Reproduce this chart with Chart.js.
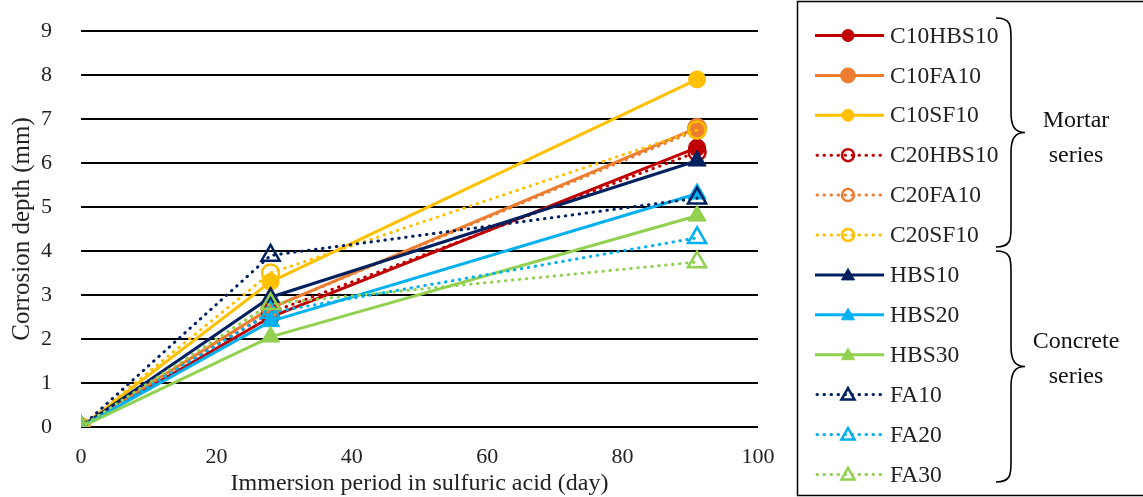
<!DOCTYPE html>
<html>
<head>
<meta charset="utf-8">
<script src="https://cdn.jsdelivr.net/npm/chart.js@4.4.0/dist/chart.umd.min.js"></script>
<style>
  html, body { margin: 0; padding: 0; background: #fff; }
  #wrap { width: 1143px; height: 497px; }
</style>
</head>
<body>
<div id="wrap"><canvas id="corrChart"></canvas></div>
<script>
// immersion days
const days = [0, 28, 91];

// corrosion depth (mm)
const c10hbs10 = [0, 2.5, 6.35];
const c10fa10 = [0, 2.7, 6.8];
const c10sf10 = [0, 3.3, 7.9];
const c20hbs10 = [0, 2.6, 6.25];
const c20fa10 = [0, 2.7, 6.75];
const c20sf10 = [0, 3.5, 6.75];
const hbs10 = [0, 2.95, 6.05];
const hbs20 = [0, 2.4, 5.3];
const hbs30 = [0, 2.05, 4.8];
const fa10 = [0, 3.9, 5.2];
const fa20 = [0, 2.6, 4.3];
const fa30 = [0, 2.8, 3.75];

const xTicks = [0, 20, 40, 60, 80, 100];
const yTicks = [0, 1, 2, 3, 4, 5, 6, 7, 8, 9];

const FONT = "'Liberation Serif', 'Times New Roman', serif";

function series(label, values, color, style, filled, dotted, radius) {
    return {
        label: label,
        data: days.map((d, i) => ({ x: d, y: values[i] })),
        borderColor: color,
        backgroundColor: color,
        borderWidth: 3,
        borderDash: dotted ? [0.5, 6.5] : [],
        borderCapStyle: dotted ? 'round' : 'butt',
        pointStyle: style,
        pointRadius: radius || (style === 'triangle' ? 10.5 : 8.5),
        pointBackgroundColor: filled ? color : 'rgba(255,255,255,0)',
        pointBorderColor: color,
        pointBorderWidth: filled ? 1 : 2.5,
        tension: 0,
        fill: false
    };
}

const datasets = [
    series('C10HBS10', c10hbs10, '#C00000', 'circle', true, false),
    series('C10FA10', c10fa10, '#ED7D31', 'circle', true, false, 9.5),
    series('C10SF10', c10sf10, '#FFC000', 'circle', true, false),
    series('C20HBS10', c20hbs10, '#C00000', 'circle', false, true),
    series('C20FA10', c20fa10, '#ED7D31', 'circle', false, true),
    series('C20SF10', c20sf10, '#FFC000', 'circle', false, true),
    series('HBS10', hbs10, '#002060', 'triangle', true, false),
    series('HBS20', hbs20, '#00B0F0', 'triangle', true, false),
    series('HBS30', hbs30, '#92D050', 'triangle', true, false),
    series('FA10', fa10, '#002060', 'triangle', false, true),
    series('FA20', fa20, '#00B0F0', 'triangle', false, true),
    series('FA30', fa30, '#92D050', 'triangle', false, true)
];
// later series drawn on top
datasets.forEach((ds, i) => { ds.order = datasets.length - i; });

function drawBrace(ctx, x, y1, y2) {
    // curly brace opening to the left, tip pointing right
    const mid = (y1 + y2) / 2;
    const w = 15;
    ctx.beginPath();
    ctx.moveTo(x, y1);
    ctx.bezierCurveTo(x + w, y1, x + w, y1 + 8, x + w, y1 + 20);
    ctx.lineTo(x + w, mid - 20);
    ctx.bezierCurveTo(x + w, mid - 6, x + w + 4, mid, x + w + 14, mid);
    ctx.bezierCurveTo(x + w + 4, mid, x + w, mid + 6, x + w, mid + 20);
    ctx.lineTo(x + w, y2 - 20);
    ctx.bezierCurveTo(x + w, y2 - 8, x + w, y2, x, y2);
    ctx.stroke();
}

// custom legend box with grouping braces
const legendBox = {
    id: 'legendBox',
    afterDraw(chart) {
        const ctx = chart.ctx;
        ctx.save();
        ctx.strokeStyle = '#000';
        ctx.lineWidth = 1.5;
        ctx.strokeRect(797.5, 1.5, 360, 494);

        chart.data.datasets.forEach((ds, i) => {
            const y = 35.5 + i * 39.9;
            ctx.save();
            ctx.strokeStyle = ds.borderColor;
            ctx.lineWidth = 3;
            ctx.setLineDash(ds.borderDash);
            ctx.lineCap = ds.borderCapStyle;
            ctx.beginPath();
            if (ds.borderDash.length) {
                ctx.moveTo(817, y); ctx.lineTo(884, y);
            } else {
                ctx.moveTo(815, y); ctx.lineTo(884, y);
            }
            ctx.stroke();
            ctx.restore();

            ctx.save();
            ctx.fillStyle = ds.pointBackgroundColor;
            ctx.strokeStyle = ds.pointBorderColor;
            ctx.lineWidth = ds.pointBorderWidth;
            ctx.beginPath();
            if (ds.pointStyle === 'circle') {
                const r = ds.label === 'C10FA10' ? 7.5 : 6;
                ctx.arc(848, y, r, 0, Math.PI * 2);
            } else {
                ctx.moveTo(848, y - 6.5);
                ctx.lineTo(854.5, y + 5);
                ctx.lineTo(841.5, y + 5);
                ctx.closePath();
            }
            ctx.fill();
            ctx.stroke();
            ctx.restore();

            ctx.fillStyle = '#222';
            ctx.font = '23.5px ' + FONT;
            ctx.textAlign = 'left';
            ctx.textBaseline = 'middle';
            ctx.fillText(ds.label, 890, y + 1);
        });

        ctx.strokeStyle = '#000';
        ctx.lineWidth = 1.6;
        drawBrace(ctx, 996, 18, 247);
        drawBrace(ctx, 996, 251, 482);

        ctx.fillStyle = '#111';
        ctx.font = '24px ' + FONT;
        ctx.textAlign = 'center';
        ctx.textBaseline = 'middle';
        ctx.fillText('Mortar', 1076, 121);
        ctx.fillText('series', 1076, 156);
        ctx.fillText('Concrete', 1076, 342);
        ctx.fillText('series', 1076, 377);
        ctx.restore();
    }
};

document.addEventListener('DOMContentLoaded', function() {
    const ctx = document.getElementById('corrChart').getContext('2d');
    new Chart(ctx, {
        type: 'line',
        data: { datasets: datasets },
        options: {
            responsive: true,
            maintainAspectRatio: false,
            animation: false,
            layout: { padding: { left: 0, right: 385, top: 31, bottom: 0 } },
            plugins: {
                legend: { display: false },
                tooltip: { enabled: false }
            },
            scales: {
                x: {
                    type: 'linear',
                    min: 0,
                    max: 100,
                    afterBuildTicks: axis => { axis.ticks = xTicks.map(v => ({ value: v })); },
                    afterFit: axis => { axis.height = 70; axis.paddingLeft = 0; axis.paddingRight = 0; },
                    grid: { display: false },
                    border: { display: false },
                    ticks: { color: '#222', font: { family: FONT, size: 22 }, padding: 9 },
                    title: {
                        display: true,
                        text: 'Immersion period in sulfuric acid (day)',
                        color: '#222',
                        font: { family: FONT, size: 24, lineHeight: 1.1 },
                        padding: { top: 0, bottom: 0 }
                    }
                },
                y: {
                    min: 0,
                    max: 9,
                    afterBuildTicks: axis => { axis.ticks = yTicks.map(v => ({ value: v })); },
                    afterFit: axis => { axis.width = 81; axis.paddingTop = 0; axis.paddingBottom = 0; },
                    grid: { color: '#000', lineWidth: 2, drawTicks: false },
                    border: { display: false },
                    ticks: { color: '#222', font: { family: FONT, size: 22 }, padding: 29 },
                    title: {
                        display: true,
                        text: 'Corrosion depth (mm)',
                        color: '#222',
                        font: { family: FONT, size: 25 },
                        padding: { top: 7, bottom: 0 }
                    }
                }
            }
        },
        plugins: [legendBox]
    });
});
</script>
</body>
</html>
